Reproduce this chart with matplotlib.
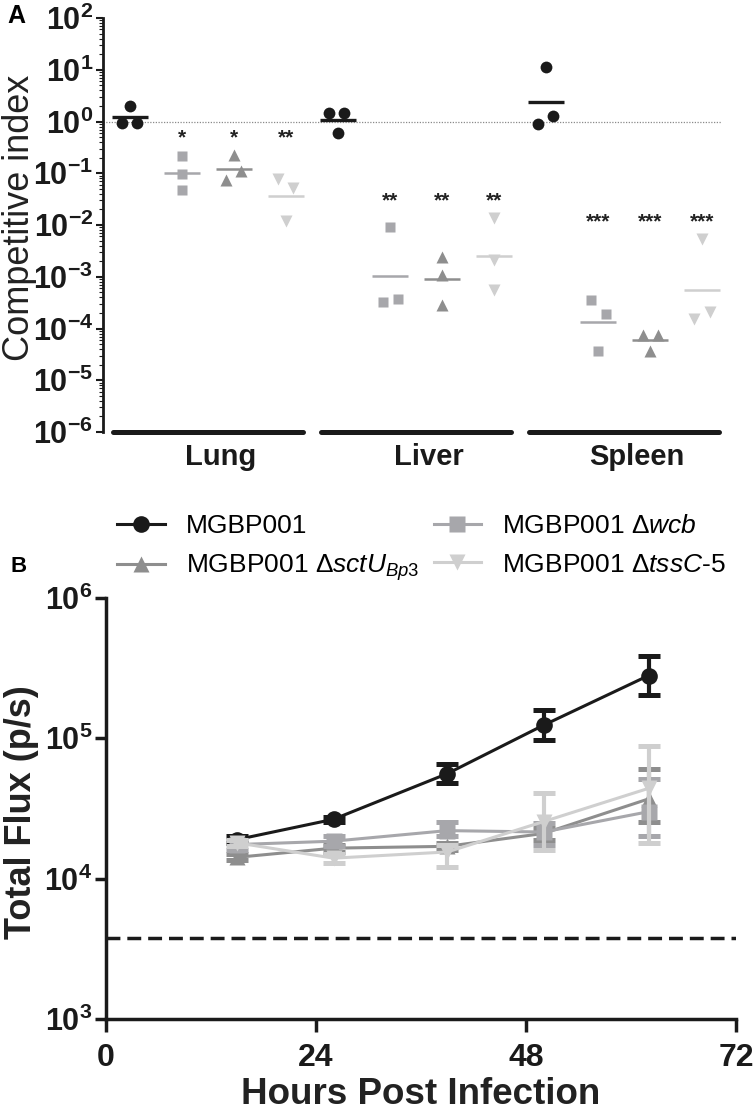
import numpy as np
import matplotlib
matplotlib.use("Agg")
import matplotlib.pyplot as plt
from matplotlib.ticker import LogLocator, FixedLocator, FuncFormatter, NullFormatter

plt.rcParams['font.family'] = ['Liberation Sans', 'DejaVu Sans']
plt.rcParams['mathtext.fontset'] = 'custom'
plt.rcParams['mathtext.rm'] = 'Liberation Sans'
plt.rcParams['mathtext.it'] = 'Liberation Sans:italic'
plt.rcParams['mathtext.bf'] = 'Liberation Sans:bold'

# ---------------- Panel A data (competitive index) ----------------
organs = ['Lung', 'Liver', 'Spleen']
lung_wt = [0.95, 1.95, 0.95]
lung_wcb = [0.22, 0.098, 0.048]
lung_sctu = [0.074, 0.23, 0.11]
lung_tssc = [0.078, 0.012, 0.052]
liver_wt = [1.43, 0.61, 1.43]
liver_wcb = [3.2e-4, 0.0091, 3.7e-4]
liver_sctu = [0.0024, 0.0011, 2.9e-4]
liver_tssc = [0.0137, 0.0021, 5.5e-4]
spleen_wt = [0.91, 11.2, 1.25]
spleen_wcb = [3.6e-4, 3.7e-5, 1.9e-4]
spleen_sctu = [7.6e-5, 3.7e-5, 7.6e-5]
spleen_tssc = [1.5e-4, 0.0054, 2.1e-4]
significance = ['', '*', '*', '**', '', '**', '**', '**', '', '***', '***', '***']

# ---------------- Panel B data (total flux) ----------------
hours = [15, 26, 39, 50, 62]
wt_mean = [1.9e4, 2.65e4, 5.6e4, 1.24e5, 2.8e5]
wt_lo = [1.8e4, 2.55e4, 4.8e4, 9.8e4, 2.05e5]
wt_hi = [2.0e4, 2.75e4, 6.6e4, 1.58e5, 3.85e5]
wcb_mean = [1.75e4, 1.85e4, 2.2e4, 2.15e4, 3.0e4]
wcb_lo = [1.6e4, 1.7e4, 2.0e4, 1.75e4, 2.0e4]
wcb_hi = [1.9e4, 2.0e4, 2.55e4, 2.5e4, 5.1e4]
sctu_mean = [1.42e4, 1.65e4, 1.7e4, 2.1e4, 3.7e4]
sctu_lo = [1.35e4, 1.55e4, 1.6e4, 1.9e4, 2.55e4]
sctu_hi = [1.5e4, 1.75e4, 1.8e4, 2.3e4, 6.0e4]
tssc_mean = [1.8e4, 1.4e4, 1.55e4, 2.55e4, 4.4e4]
tssc_lo = [1.7e4, 1.3e4, 1.22e4, 1.6e4, 1.8e4]
tssc_hi = [1.9e4, 1.5e4, 1.75e4, 4.05e4, 8.8e4]
detection_limit = 3800
x_ticks_b = [0, 24, 48, 72]

legend_labels = ['MGBP001',
                 r'MGBP001 $\mathit{\Delta sctU}_{\mathit{Bp3}}$',
                 r'MGBP001 $\mathit{\Delta wcb}$',
                 r'MGBP001 $\mathit{\Delta tssC}$-$\mathit{5}$']

# styles
C_WT = '#1a1a1a'
C_WCB = '#a7a7ab'
C_SCTU = '#8e8e8e'
C_TSSC = '#cfcfcf'

W, H = 756, 1114
fig = plt.figure(figsize=(W / 100, H / 100), dpi=100)

# ================= Panel A =================
axA = fig.add_axes([103 / W, 1 - 432 / H, 619 / W, 414 / H])
axA.set_yscale('log')
axA.set_ylim(1e-6, 1e2)
axA.set_xlim(-0.52, 11.38)

columns = [lung_wt, lung_wcb, lung_sctu, lung_tssc,
           liver_wt, liver_wcb, liver_sctu, liver_tssc,
           spleen_wt, spleen_wcb, spleen_sctu, spleen_tssc]
jitter = [[-0.15, 0, 0.14], [0, 0, 0], [-0.15, 0, 0.14], [-0.15, 0, 0.14],
          [-0.17, 0, 0.12], [-0.14, 0, 0.15], [0, 0, 0], [0, 0, 0],
          [-0.15, 0, 0.14], [-0.14, 0, 0.15], [-0.14, 0, 0.15], [-0.15, 0, 0.14]]
styles = [('o', C_WT, 8.5), ('s', C_WCB, 7.5), ('^', C_SCTU, 9), ('v', C_TSSC, 9)]

axA.axhline(1, color='#8a8a8a', ls=(0, (1, 1.2)), lw=0.9, zorder=1)

for i, vals in enumerate(columns):
    m, c, ms = styles[i % 4]
    xs = [i + d for d in jitter[i]]
    axA.plot(xs, vals, ls='none', marker=m, color=c, ms=ms, mec='none', zorder=3)
    gm = 10 ** np.mean(np.log10(vals))
    axA.plot([i - 0.35, i + 0.35], [gm, gm], color=c, lw=2.4 if i % 4 == 0 else 1.8,
             solid_capstyle='butt', zorder=2)

# significance stars, placed just above each organ's highest mutant point
for g in range(3):
    top = max(max(columns[4 * g + k]) for k in (1, 2, 3))
    ystar = 10 ** (np.log10(top) + 0.33)
    for k in (1, 2, 3):
        axA.text(4 * g + k, ystar, significance[4 * g + k], ha='center', va='center',
                 fontsize=15, fontweight='bold', color='#222222')

for g, name in enumerate(organs):
    axA.plot([4 * g - 0.33, 4 * g + 3.32], [1e-6, 1e-6], color=C_WT, lw=3.6,
             solid_capstyle='round', clip_on=False, zorder=4)
    axA.text(4 * g + 1.75, -0.06, name, transform=axA.get_xaxis_transform(),
             ha='center', va='center', fontsize=21, fontweight='bold', color=C_WT)

for s in ('top', 'right', 'bottom'):
    axA.spines[s].set_visible(False)
axA.spines['left'].set_linewidth(2)
axA.spines['left'].set_color(C_WT)
axA.set_xticks([])
axA.yaxis.set_major_locator(FixedLocator([10.0 ** k for k in range(-6, 3)]))
axA.yaxis.set_minor_locator(LogLocator(base=10, subs=np.arange(2, 10), numticks=30))
axA.yaxis.set_minor_formatter(NullFormatter())
axA.yaxis.set_major_formatter(FuncFormatter(lambda v, p: r'$\mathbf{10^{%d}}$' % round(np.log10(v))))
axA.tick_params(axis='y', which='major', length=5, width=1.5, pad=2, labelsize=22, colors=C_WT)
axA.tick_params(axis='y', which='minor', length=3, width=0.8, colors=C_WT)
fig.text(20 / W, 1 - 218 / H, 'Competitive index', rotation=90, ha='center', va='center',
         fontsize=26, color='#222222')
fig.text(16 / W, 1 - 16 / H, 'A', ha='center', va='center', fontsize=18, fontweight='bold')

# ================= Panel B =================
axB = fig.add_axes([106 / W, 1 - 1019 / H, 630 / W, 421 / H])
axB.set_yscale('log')
axB.set_ylim(1e3, 1e6)
axB.set_xlim(0, 72)

series = [(wt_mean, wt_lo, wt_hi, 'o', C_WT, 12),
          (sctu_mean, sctu_lo, sctu_hi, '^', C_SCTU, 12),
          (wcb_mean, wcb_lo, wcb_hi, 's', C_WCB, 11),
          (tssc_mean, tssc_lo, tssc_hi, 'v', C_TSSC, 12)]
draw_order = [0, 2, 1, 3]
handles = [None] * 4
for j in draw_order:
    mean, lo, hi, m, c, ms = series[j]
    mean = np.array(mean); lo = np.array(lo); hi = np.array(hi)
    cont = axB.errorbar(hours, mean, yerr=[mean - lo, hi - mean], fmt='-', marker=m,
                        color=c, ms=ms, mec='none', lw=2.2, elinewidth=3,
                        capsize=8, capthick=3.6, zorder=3 + j)
    handles[j] = cont[0]

axB.axhline(detection_limit, color=C_WT, ls=(0, (4, 2)), lw=2.5, zorder=2)

for s in ('top', 'right'):
    axB.spines[s].set_visible(False)
for s in ('left', 'bottom'):
    axB.spines[s].set_linewidth(2.5)
    axB.spines[s].set_color(C_WT)
axB.set_xticks(x_ticks_b)
axB.set_xticklabels([str(t) for t in x_ticks_b])
axB.yaxis.set_major_locator(FixedLocator([1e3, 1e4, 1e5, 1e6]))
axB.yaxis.set_minor_locator(FixedLocator([]))
axB.yaxis.set_major_formatter(FuncFormatter(lambda v, p: r'$\mathbf{10^{%d}}$' % round(np.log10(v))))
axB.tick_params(axis='y', which='major', length=8, width=2.5, pad=2, labelsize=22, colors=C_WT)
axB.tick_params(axis='x', which='major', length=9, width=2.5, pad=8, labelsize=23, colors=C_WT)
for lab in axB.get_xticklabels():
    lab.set_fontweight('bold')
fig.text(421 / W, 1 - 1094 / H, 'Hours Post Infection', ha='center', va='center',
         fontsize=26.5, fontweight='bold', color='#222222')
fig.text(22 / W, 1 - 812 / H, 'Total Flux (p/s)', rotation=90, ha='center', va='center',
         fontsize=26, fontweight='bold', color='#222222')
fig.text(19 / W, 1 - 567 / H, 'B', ha='center', va='center', fontsize=16, fontweight='bold')

fig.legend(handles, legend_labels, loc='upper left', bbox_to_anchor=(117 / W, 1 - 514 / H),
           ncol=2, frameon=False, fontsize=19, handlelength=1.8, handletextpad=0.8,
           columnspacing=0.55, labelspacing=0.55, borderpad=0, borderaxespad=0)

fig.savefig('out.png', dpi=100)
